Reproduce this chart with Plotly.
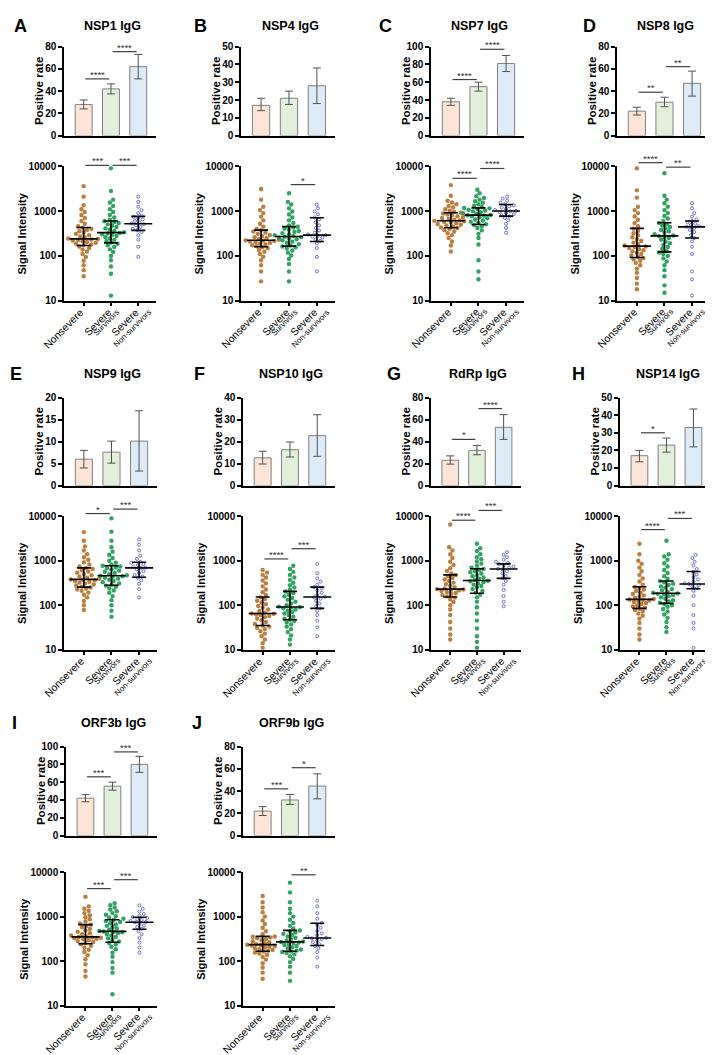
import numpy as np
import plotly.graph_objects as go

# ---------------- DATA ----------------
panels = ["A", "B", "C", "D", "E", "F", "G", "H", "I", "J"]
titles = ["NSP1 IgG", "NSP4 IgG", "NSP7 IgG", "NSP8 IgG", "NSP9 IgG",
          "NSP10 IgG", "RdRp IgG", "NSP14 IgG", "ORF3b IgG", "ORF9b IgG"]
group_main = ["Nonsevere", "Severe", "Severe"]
group_sub = ["", "Survivors", "Non-survivors"]

# Positive rate (%) with 95% CI
rate_mean = [[28, 42, 62], [17, 21, 28], [38, 55, 81], [22, 30, 47], [6, 7.6, 10.1],
             [12.6, 16.3, 22.7], [23, 32, 53], [17, 23, 33], [42, 55.5, 80], [22, 32, 44.5]]
rate_lo = [[24, 37.5, 51], [14, 17.5, 18], [34, 50, 72], [18.5, 26, 35.5], [4, 5.1, 3.3],
           [9.8, 13, 13.3], [19.5, 28, 42], [13.5, 19, 22], [38, 51, 71], [18, 28, 33]]
rate_hi = [[32, 46.5, 73], [21, 25, 38], [42, 60, 90], [25.5, 34.5, 58], [8, 10.1, 17],
           [15.6, 19.8, 32.2], [27, 36.5, 64.5], [20, 27, 43.5], [46, 60, 89], [26, 37, 55.5]]
rate_ymax = [80, 50, 100, 80, 20, 40, 80, 50, 100, 80]
rate_dtick = [20, 10, 20, 20, 5, 10, 20, 10, 20, 20]
rate_sig = [["****", "****"], ["", ""], ["****", "****"], ["**", "**"], ["", ""],
            ["", ""], ["*", "****"], ["*", ""], ["***", "***"], ["***", "*"]]

# Signal intensity: median and interquartile range
int_median = [[240, 330, 520], [224, 270, 290], [610, 810, 1000], [165, 280, 445], [380, 460, 690],
              [65, 91, 153], [230, 360, 650], [135, 185, 300], [350, 465, 750], [235, 270, 330]]
int_q1 = [[170, 195, 370], [160, 165, 210], [425, 500, 770], [92, 123, 250], [255, 280, 425],
          [35, 47, 85], [153, 185, 400], [85, 110, 235], [245, 265, 520], [167, 167, 225]]
int_q3 = [[430, 600, 760], [375, 450, 710], [920, 1180, 1400], [410, 550, 600], [690, 770, 920],
          [153, 205, 255], [480, 660, 850], [260, 350, 570], [660, 850, 970], [360, 490, 710]]
int_sig = [["***", "***"], ["", "*"], ["****", "****"], ["****", "**"], ["*", "***"],
           ["****", "***"], ["****", "***"], ["****", "***"], ["***", "***"], ["", "**"]]

# Individual signal intensities
A_nonsevere = [35, 48, 62, 78, 95, 110, 125, 138, 150, 162, 172, 180, 188, 196, 204, 212, 220, 226, 232, 238,
               245, 258, 272, 290, 310, 332, 355, 380, 402, 425, 460, 520, 600, 700, 820, 950, 1100, 1350, 2100, 3600]
A_survivors = [13, 40, 58, 80, 100, 122, 140, 158, 172, 186, 198, 212, 228, 245, 262, 278, 295, 305, 316, 326,
               338, 360, 385, 410, 440, 470, 505, 540, 570, 595, 640, 720, 820, 950, 1100, 1300, 1550, 1800, 2800, 9000]
A_nonsurvivors = [95, 160, 230, 290, 340, 372, 400, 440, 480, 510, 530, 560, 600, 650, 700, 740, 800, 900, 1050,
                  1250, 1600, 2100]

B_nonsevere = [27, 45, 62, 80, 96, 110, 124, 136, 148, 156, 164, 172, 180, 188, 195, 202, 208, 214, 218, 222,
               228, 238, 250, 262, 276, 292, 310, 330, 350, 372, 400, 450, 520, 620, 750, 900, 1050, 1250, 1800, 3100]
B_survivors = [27, 45, 66, 85, 102, 118, 132, 146, 156, 162, 170, 182, 196, 208, 222, 235, 246, 256, 262, 268,
               276, 290, 305, 322, 340, 360, 382, 405, 428, 448, 480, 540, 620, 720, 840, 980, 1150, 1400, 1600, 2500]
B_nonsurvivors = [45, 95, 150, 190, 215, 235, 255, 270, 282, 290, 300, 330, 370, 420, 480, 560, 650, 720, 850,
                  980, 1150, 1400]

C_nonsevere = [125, 170, 210, 250, 290, 320, 350, 375, 398, 418, 432, 455, 475, 495, 515, 535, 555, 575, 592, 605,
               620, 645, 670, 700, 730, 765, 800, 840, 880, 915, 960, 1020, 1100, 1200, 1300, 1420, 1550, 1700, 2200, 3800]
C_survivors = [30, 45, 80, 180, 250, 310, 370, 420, 460, 490, 510, 545, 580, 615, 650, 690, 730, 765, 790, 805,
               820, 860, 900, 940, 985, 1030, 1070, 1110, 1150, 1175, 1230, 1320, 1420, 1530, 1650, 1800, 1950, 2150, 2500, 3000]
C_nonsurvivors = [330, 420, 520, 620, 700, 760, 800, 850, 900, 950, 990, 1010, 1060, 1120, 1200, 1280, 1350, 1420,
                  1550, 1700, 1900, 2100]

D_nonsevere = [18, 24, 32, 42, 52, 62, 70, 78, 84, 90, 95, 102, 110, 118, 126, 134, 142, 150, 157, 163,
               170, 182, 198, 215, 236, 260, 290, 320, 360, 405, 460, 540, 640, 760, 900, 1050, 1250, 2000, 2900, 9000]
D_survivors = [15, 22, 35, 48, 62, 75, 88, 100, 110, 119, 128, 142, 158, 175, 192, 210, 230, 250, 265, 276,
               285, 305, 330, 355, 380, 410, 440, 475, 510, 545, 600, 680, 780, 900, 1050, 1250, 1500, 1800, 2200, 7000]
D_nonsurvivors = [13, 30, 45, 110, 160, 210, 250, 290, 340, 380, 420, 445, 460, 490, 520, 560, 600, 650, 750, 900,
                  1150, 1500]

E_nonsevere = [78, 100, 125, 150, 172, 192, 210, 225, 238, 250, 262, 278, 292, 308, 322, 336, 350, 362, 372, 378,
               392, 415, 440, 470, 500, 535, 570, 610, 650, 685, 740, 820, 920, 1050, 1200, 1400, 1700, 2100, 2800, 4400]
E_survivors = [55, 75, 100, 130, 160, 190, 215, 240, 260, 275, 290, 310, 330, 350, 372, 395, 415, 432, 448, 458,
               470, 500, 530, 565, 600, 640, 680, 715, 745, 768, 820, 900, 1000, 1150, 1350, 1600, 2000, 2800, 4500, 9000]
E_nonsurvivors = [150, 230, 300, 360, 410, 440, 480, 530, 580, 640, 690, 700, 740, 790, 840, 900, 950, 1100, 1300,
                  1700, 2300, 3000]

F_nonsevere = [11, 14, 17, 20, 23, 26, 29, 31, 33, 35, 38, 42, 46, 50, 54, 57, 60, 62, 64, 65,
               68, 74, 80, 88, 96, 105, 115, 126, 138, 150, 170, 195, 225, 265, 310, 360, 420, 480, 540, 620]
F_survivors = [13, 17, 21, 25, 29, 33, 37, 41, 44, 47, 50, 55, 60, 65, 70, 75, 80, 85, 88, 90,
               93, 100, 110, 120, 132, 145, 158, 172, 188, 203, 225, 250, 280, 320, 370, 420, 480, 560, 650, 770]
F_nonsurvivors = [20, 32, 45, 60, 75, 85, 95, 110, 125, 140, 150, 156, 170, 190, 215, 240, 255, 290, 340, 400,
                  520, 850]

G_nonsevere = [17, 22, 30, 42, 60, 80, 100, 118, 135, 148, 158, 168, 178, 188, 198, 208, 216, 222, 226, 230,
               238, 255, 275, 298, 322, 350, 380, 410, 445, 478, 520, 590, 680, 800, 950, 1150, 1400, 1700, 2000, 6500]
G_survivors = [11, 15, 20, 30, 45, 65, 90, 120, 150, 172, 192, 210, 230, 250, 270, 290, 310, 330, 345, 355,
               370, 395, 420, 450, 480, 515, 550, 590, 625, 655, 700, 770, 860, 960, 1080, 1200, 1400, 1650, 1900, 2400]
G_nonsurvivors = [95, 120, 160, 220, 290, 350, 400, 450, 520, 580, 640, 660, 700, 740, 790, 840, 880, 950, 1050,
                  1200, 1350, 1550]

H_nonsevere = [17, 22, 30, 40, 50, 58, 65, 72, 78, 83, 88, 94, 100, 106, 112, 118, 124, 128, 132, 134,
               138, 146, 155, 166, 178, 192, 208, 225, 242, 258, 290, 340, 400, 480, 580, 700, 850, 1000, 1400, 2400]
H_survivors = [25, 32, 42, 52, 62, 72, 82, 92, 100, 107, 114, 122, 130, 140, 150, 160, 168, 175, 180, 184,
               190, 202, 215, 230, 248, 265, 285, 305, 325, 348, 390, 450, 530, 620, 740, 880, 1050, 1250, 1400, 2800]
H_nonsurvivors = [11, 30, 40, 60, 100, 160, 210, 240, 265, 285, 300, 310, 340, 380, 430, 490, 560, 650, 780, 950,
                  1150, 1350]

I_nonsevere = [45, 60, 85, 110, 135, 160, 180, 200, 220, 238, 252, 268, 282, 296, 308, 318, 328, 336, 342, 348,
               358, 378, 400, 425, 455, 490, 530, 575, 620, 655, 700, 780, 870, 970, 1080, 1200, 1350, 1500, 1700, 2800]
I_survivors = [18, 55, 70, 95, 125, 155, 185, 210, 235, 255, 275, 300, 325, 350, 375, 400, 425, 445, 458, 463,
               475, 505, 540, 580, 620, 665, 710, 755, 800, 845, 900, 960, 1020, 1100, 1200, 1320, 1450, 1600, 1800, 2000]
I_nonsurvivors = [155, 200, 260, 330, 400, 470, 530, 580, 630, 690, 740, 760, 800, 840, 880, 930, 980, 1050, 1150,
                  1300, 1500, 1800]

J_nonsevere = [40, 55, 72, 90, 108, 124, 138, 148, 156, 163, 170, 178, 186, 194, 202, 210, 218, 225, 230, 234,
               240, 252, 265, 280, 296, 312, 328, 342, 352, 358, 400, 470, 560, 680, 820, 1000, 1250, 1600, 2100, 2900]
J_survivors = [36, 55, 75, 95, 112, 128, 142, 152, 160, 165, 172, 182, 194, 206, 218, 230, 242, 254, 262, 268,
               275, 292, 312, 335, 360, 385, 410, 440, 465, 488, 540, 620, 720, 850, 1000, 1200, 1500, 2100, 3500, 5800]
J_nonsurvivors = [75, 120, 160, 195, 220, 240, 265, 290, 310, 325, 335, 350, 380, 420, 480, 560, 650, 720, 900,
                  1200, 1700, 2300]

intensity = {
    "A": [A_nonsevere, A_survivors, A_nonsurvivors], "B": [B_nonsevere, B_survivors, B_nonsurvivors],
    "C": [C_nonsevere, C_survivors, C_nonsurvivors], "D": [D_nonsevere, D_survivors, D_nonsurvivors],
    "E": [E_nonsevere, E_survivors, E_nonsurvivors], "F": [F_nonsevere, F_survivors, F_nonsurvivors],
    "G": [G_nonsevere, G_survivors, G_nonsurvivors], "H": [H_nonsevere, H_survivors, H_nonsurvivors],
    "I": [I_nonsevere, I_survivors, I_nonsurvivors], "J": [J_nonsevere, J_survivors, J_nonsurvivors],
}

# ---------------- LAYOUT / STYLE ----------------
W, H = 713, 1055
FONT = "Liberation Sans, Arial, sans-serif"
bar_fill = ["#FCE4D6", "#E2EFDA", "#DDEBF7"]
dot_color = ["#B5732E", "#1F9A55", "#5A62C8"]
XMIN, XMAX = -0.72, 2.65

# rows: title y, bar top, bar bottom, scatter top, scatter bottom (px)
rows = [(12, 33, 123, 154, 290), (364, 388, 477, 508, 643), (717, 741, 831, 868, 1003)]
# per panel: x0, x1 of plot area, letter x (px)
panel_x = [(56, 148, 12), (233, 327, 192), (423, 516, 377), (609, 702, 581),
           (56, 149, 8), (235, 327, 191), (423, 513, 386), (612, 703, 570),
           (58, 149, 6), (235, 327, 189)]
# bracket heights (bar: data units; intensity: log10 units)
rate_bracket = [[51, 75.5], [None, None], [63, 97], [39, 62], [None, None],
                [None, None], [42, 70], [30, None], [66, 94], [42, 61]]
int_bracket = [[4.02, 4.02], [None, 3.59], [3.73, 3.95], [4.08, 3.98], [4.06, 4.16],
               [3.04, 3.27], [3.91, 4.13], [3.70, 3.95], [3.63, 3.83], [None, 3.94]]
# label anchor offsets (px) of the end of each text line relative to the tick foot
main_off = (4, 4)
sub_off = [(0, 0), (12, 6), (16, 6)]


def px_x(p):
    return p / W


def px_y(p):
    return 1 - p / H


def swarm(vals, px_per_dec, px_per_unit, d=4.4, step=1.1):
    ys = np.log10(np.asarray(vals, float)) * px_per_dec
    order = np.argsort(ys)
    placed = []
    offs = np.zeros(len(vals))
    cands = [0.0]
    for m in range(1, 60):
        cands += [m * step, -m * step]
    for idx in order:
        y = ys[idx]
        near = [(px, py) for px, py in placed if abs(py - y) < d]
        for c in cands:
            if all((c - px) ** 2 + (y - py) ** 2 >= d * d for px, py in near):
                break
        placed.append((c, y))
        offs[idx] = c / px_per_unit
    return offs


fig = go.Figure()
layout = dict(width=W, height=H, margin=dict(l=0, r=0, t=0, b=0),
              paper_bgcolor="white", plot_bgcolor="white", showlegend=False,
              font=dict(family=FONT, color="black"))
annotations, shapes = [], []
tickfont = dict(family=FONT, size=10, color="black", weight="bold")
axis_common = dict(showline=True, linewidth=1.5, linecolor="black", ticks="outside",
                   ticklen=4, tickwidth=1.5, tickcolor="black", showgrid=False, zeroline=False)

for k, p in enumerate(panels):
    row = k // 4
    ty, bt, bb, st, sb = rows[row]
    x0, x1, lx = panel_x[k]
    nb, ns = 2 * k + 1, 2 * k + 2
    dom_x = [px_x(x0), px_x(x1)]

    def xpix(i):
        return x0 + (i - XMIN) / (XMAX - XMIN) * (x1 - x0)

    # ---- bar chart ----
    m = np.array(rate_mean[k], float)
    lo = np.array(rate_lo[k], float)
    hi = np.array(rate_hi[k], float)
    fig.add_trace(go.Bar(
        x=[0, 1, 2], y=m, width=0.62,
        marker=dict(color=bar_fill, line=dict(color="#808080", width=1)),
        error_y=dict(type="data", symmetric=False, array=hi - m, arrayminus=m - lo,
                     color="#505050", thickness=1, width=4),
        xaxis=f"x{nb}", yaxis=f"y{nb}", hoverinfo="skip"))
    layout[f"xaxis{nb}"] = dict(domain=dom_x, anchor=f"y{nb}", range=[XMIN, XMAX],
                                showline=True, linewidth=1.5, linecolor="black",
                                ticks="", showticklabels=False, showgrid=False, zeroline=False)
    layout[f"yaxis{nb}"] = dict(axis_common, domain=[px_y(bb), px_y(bt)], anchor=f"x{nb}",
                                range=[0, rate_ymax[k]], dtick=rate_dtick[k], tick0=0,
                                tickfont=tickfont)

    # ---- intensity swarm ----
    ppd = (sb - st) / 3.0
    ppu = (x1 - x0) / (XMAX - XMIN)
    for g in range(3):
        vals = intensity[p][g]
        if g < 2:
            offs = swarm(vals, ppd, ppu, d=4.2)
            marker = dict(size=4.4, color=dot_color[g], opacity=0.92)
        else:
            offs = swarm(vals, ppd, ppu, d=4.0)
            marker = dict(size=3.0, color=dot_color[g], symbol="circle-open",
                          line=dict(color=dot_color[g], width=0.9))
        fig.add_trace(go.Scatter(x=g + offs, y=vals, mode="markers", marker=marker,
                                 xaxis=f"x{ns}", yaxis=f"y{ns}", hoverinfo="skip"))
    med = np.array(int_median[k], float)
    q1 = np.array(int_q1[k], float)
    q3 = np.array(int_q3[k], float)
    fig.add_trace(go.Scatter(
        x=[0, 1, 2], y=med, mode="markers",
        marker=dict(symbol="line-ew", size=20, color="black", line=dict(width=1.6, color="black")),
        error_y=dict(type="data", symmetric=False, array=q3 - med, arrayminus=med - q1,
                     color="black", thickness=1.6, width=7),
        xaxis=f"x{ns}", yaxis=f"y{ns}", hoverinfo="skip"))
    layout[f"xaxis{ns}"] = dict(axis_common, domain=dom_x, anchor=f"y{ns}", range=[XMIN, XMAX],
                                tickvals=[0, 1, 2], ticktext=["", "", ""], showticklabels=False)
    layout[f"yaxis{ns}"] = dict(axis_common, domain=[px_y(sb), px_y(st)], anchor=f"x{ns}",
                                type="log", range=[1, 4],
                                tickvals=[10, 100, 1000, 10000],
                                ticktext=["10", "100", "1000", "10000"], tickfont=tickfont)

    # ---- rotated category labels ----
    for g in range(3):
        tx = xpix(g)
        annotations.append(dict(text=group_main[g], x=px_x(tx + main_off[0]),
                                y=px_y(sb + main_off[1]), xref="paper", yref="paper",
                                xanchor="right", yanchor="top", textangle=-45, showarrow=False,
                                borderpad=0,
                                font=dict(family=FONT, size=10.5, color="black")))
        if group_sub[g]:
            annotations.append(dict(text=group_sub[g], x=px_x(tx + sub_off[g][0]),
                                    y=px_y(sb + sub_off[g][1]), xref="paper", yref="paper",
                                    xanchor="right", yanchor="top", textangle=-45,
                                    showarrow=False, borderpad=0,
                                    font=dict(family=FONT, size=8, color="black")))

    # ---- letters, titles, axis titles ----
    annotations.append(dict(text=p, x=px_x(lx), y=px_y(ty), xref="paper", yref="paper",
                            xanchor="center", yanchor="middle", showarrow=False,
                            font=dict(family=FONT, size=18, color="black", weight="bold")))
    annotations.append(dict(text=titles[k], x=px_x((x0 + x1) / 2 + 2), y=px_y(ty), xref="paper",
                            yref="paper", xanchor="center", yanchor="middle", showarrow=False,
                            font=dict(family=FONT, size=12.5, color="black", weight="bold")))
    annotations.append(dict(text="Positive rate", x=px_x(x0 - 25), y=px_y((bt + bb) / 2),
                            xref="paper", yref="paper", xanchor="center", yanchor="middle",
                            textangle=-90, showarrow=False,
                            font=dict(family=FONT, size=11.5, color="black", weight="bold")))
    annotations.append(dict(text="Signal Intensity", x=px_x(x0 - 42), y=px_y((st + sb) / 2),
                            xref="paper", yref="paper", xanchor="center", yanchor="middle",
                            textangle=-90, showarrow=False,
                            font=dict(family=FONT, size=11, color="black", weight="bold")))

    # ---- significance brackets ----
    def bracket(i, j, ypix, label):
        xa, xb = px_x(xpix(i + 0.06)), px_x(xpix(j - 0.06))
        yp = px_y(ypix)
        shapes.append(dict(type="line", xref="paper", yref="paper", x0=xa, x1=xb,
                           y0=yp, y1=yp, line=dict(color="#404040", width=1.2)))
        annotations.append(dict(text=label, x=(xa + xb) / 2, y=yp, xref="paper", yref="paper",
                                xanchor="center", yanchor="bottom", yshift=-3, showarrow=False,
                                font=dict(family=FONT, size=9.5, color="#303030")))

    for s in range(2):
        if rate_sig[k][s] and rate_bracket[k][s] is not None:
            yv = rate_bracket[k][s]
            bracket(s, s + 1, bb - yv / rate_ymax[k] * (bb - bt), rate_sig[k][s])
        if int_sig[k][s] and int_bracket[k][s] is not None:
            lv = int_bracket[k][s]
            bracket(s, s + 1, sb - (lv - 1) / 3.0 * (sb - st), int_sig[k][s])

layout["annotations"] = annotations
layout["shapes"] = shapes
fig.update_layout(**layout)
fig.write_html("out.html")
